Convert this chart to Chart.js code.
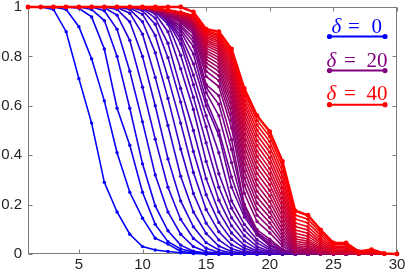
<!DOCTYPE html>
<html lang="en">
<head>
<meta charset="UTF-8" />
<title>Delta sweep</title>
<script src="https://cdn.jsdelivr.net/npm/chart.js"></script>
<style>
  html, body { margin: 0; padding: 0; background: #fff; }
  #wrap { width: 407px; height: 276px; }
</style>
</head>
<body>
<div id="wrap"><canvas id="chart" width="407" height="276"></canvas></div>
<script>
// x positions, axis ticks, delta values
const xValues = [1,2,3,4,5,6,7,8,9,10,11,12,13,14,15,16,17,18,19,20,21,22,23,24,25,26,27,28,29,30];
const xTicks = [5,10,15,20,25,30];
const yTicks = [0,0.2,0.4,0.6,0.8,1];
const deltas = [0,1,2,3,4,5,6,7,8,9,10,11,12,13,14,15,16,17,18,19,20,21,22,23,24,25,26,27,28,29,30,31,32,33,34,35,36,37,38,39,40];
const legendDeltas = [0,20,40];

// one curve per delta
const s00 = [1,1,0.99,0.9,0.71,0.53,0.29,0.17,0.08,0.03,0.016,0.01,0.005,0.002,0,0,0,0,0,0,0,0,0,0,0,0,0,0,0,0];
const s01 = [1,1,1,0.99,0.92,0.79,0.62,0.41,0.25,0.145,0.064,0.04,0.01,0.005,0,0,0,0,0,0,0,0,0,0,0,0,0,0,0,0];
const s02 = [1,1,1,1,0.995,0.96,0.83,0.59,0.44,0.25,0.12,0.05,0.02,0.008,0.003,0,0,0,0,0,0,0,0,0,0,0,0,0,0,0];
const s03 = [1,1,1,1,1,0.99,0.945,0.8,0.59,0.365,0.195,0.094,0.036,0.011,0.004,0,0,0,0,0,0,0,0,0,0,0,0,0,0,0];
const s04 = [1,1,1,1,1,1,0.985,0.91,0.74,0.535,0.32,0.17,0.08,0.03,0.009,0.003,0,0,0,0,0,0,0,0,0,0,0,0,0,0];
const s05 = [1,1,1,1,1,1,0.997,0.967,0.865,0.675,0.465,0.27,0.14,0.063,0.023,0.006,0.002,0,0,0,0,0,0,0,0,0,0,0,0,0];
const s06 = [1,1,1,1,1,1,1,0.99,0.94,0.8,0.6,0.385,0.215,0.11,0.046,0.016,0.004,0.001,0,0,0,0,0,0,0,0,0,0,0,0];
const s07 = [1,1,1,1,1,1,1,0.998,0.975,0.89,0.715,0.52,0.315,0.17,0.083,0.032,0.01,0.003,0,0,0,0,0,0,0,0,0,0,0,0];
const s08 = [1,1,1,1,1,1,1,1,0.99,0.94,0.815,0.63,0.425,0.245,0.125,0.057,0.021,0.006,0.002,0,0,0,0,0,0,0,0,0,0,0];
const s09 = [1,1,1,1,1,1,1,1,0.996,0.97,0.885,0.715,0.53,0.33,0.18,0.09,0.037,0.013,0.003,0,0,0,0,0,0,0,0,0,0,0];
const s10 = [1,1,1,1,1,1,1,1,0.999,0.985,0.93,0.795,0.615,0.415,0.24,0.128,0.059,0.023,0.007,0.002,0,0,0,0,0,0,0,0,0,0];
const s11 = [1,1,1,1,1,1,1,1,1,0.993,0.955,0.853,0.67,0.5,0.305,0.17,0.085,0.035,0.012,0.003,0,0,0,0,0,0,0,0,0,0];
const s12 = [1,1,1,1,1,1,1,1,1,0.996,0.972,0.9,0.75,0.585,0.375,0.218,0.114,0.053,0.02,0.006,0.002,0,0,0,0,0,0,0,0,0];
const s13 = [1,1,1,1,1,1,1,1,1,0.998,0.98,0.93,0.805,0.635,0.45,0.27,0.147,0.074,0.03,0.01,0.003,0,0,0,0,0,0,0,0,0];
const s14 = [1,1,1,1,1,1,1,1,1,0.999,0.99,0.94,0.85,0.685,0.515,0.325,0.185,0.097,0.044,0.017,0.005,0.001,0,0,0,0,0,0,0,0];
const s15 = [1,1,1,1,1,1,1,1,1,0.998,0.988,0.945,0.87,0.725,0.56,0.41,0.215,0.12,0.058,0.024,0.008,0.002,0,0,0,0,0,0,0,0];
const s16 = [1,1,1,1,1,1,1,1,1,0.997,0.986,0.948,0.885,0.77,0.6,0.48,0.27,0.15,0.077,0.033,0.012,0.004,0,0,0,0,0,0,0,0];
const s17 = [1,1,1,1,1,1,1,1,1,0.996,0.984,0.951,0.9,0.81,0.622,0.5,0.312,0.165,0.08,0.036,0.013,0.003,0,0,0,0,0,0,0,0];
const s18 = [1,1,1,1,1,1,1,1,1,0.995,0.982,0.953,0.91,0.84,0.653,0.56,0.37,0.18,0.085,0.04,0.014,0.003,0.001,0,0,0,0,0,0,0];
const s19 = [1,1,1,1,1,1,1,1,1,0.994,0.981,0.955,0.92,0.86,0.674,0.606,0.423,0.195,0.089,0.05,0.017,0.003,0.001,0,0,0,0,0,0,0];
const s20 = [1,1,1,1,1,1,1,1,1,0.994,0.98,0.957,0.927,0.876,0.686,0.641,0.463,0.2015,0.098,0.06,0.0198,0.001,0,0,0,0,0,0,0,0];
const s21 = [1,1,1,1,1,1,1,1,1,0.9948,0.9827,0.9622,0.9357,0.8909,0.719,0.678,0.51,0.246,0.1315,0.0853,0.0323,0.0022,0.0015,0.0003,0,0,0,0,0,0];
const s22 = [1,1,1,1,1,1,1,1,1,0.9952,0.9842,0.9655,0.9412,0.9,0.7402,0.7018,0.5413,0.2787,0.1573,0.1061,0.0438,0.0038,0.0027,0.0006,0,0,0,0,0,0];
const s23 = [1,1,1,1,1,1,1,1,1,0.9956,0.9854,0.9682,0.9457,0.9075,0.7579,0.7216,0.568,0.308,0.1818,0.1265,0.056,0.0059,0.0043,0.0011,0.0001,0,0,0,0,0];
const s24 = [1,1,1,1,1,1,1,1,1,0.9959,0.9865,0.9705,0.9496,0.9141,0.7738,0.7394,0.5926,0.3364,0.2066,0.1477,0.0694,0.0087,0.0065,0.0018,0.0002,0.0002,0,0,0,0];
const s25 = [1,1,1,1,1,1,1,1,1,0.9962,0.9874,0.9726,0.953,0.9199,0.7878,0.7552,0.6146,0.363,0.2306,0.1688,0.0836,0.0122,0.0092,0.0028,0.0004,0.0004,0,0,0,0];
const s26 = [1,1,1,1,1,1,1,1,1,0.9965,0.9883,0.9744,0.9562,0.9251,0.8005,0.7695,0.635,0.3886,0.2546,0.1902,0.0988,0.0163,0.0127,0.0042,0.0007,0.0007,0,0,0,0];
const s27 = [1,1,1,1,1,1,1,1,1,0.9967,0.9891,0.9761,0.9591,0.93,0.8126,0.7833,0.6549,0.4143,0.2793,0.2129,0.1156,0.0216,0.017,0.006,0.0011,0.0011,0,0.0001,0,0];
const s28 = [1,1,1,1,1,1,1,1,1,0.9969,0.9898,0.9776,0.9616,0.9343,0.8234,0.7956,0.6728,0.4382,0.3029,0.2349,0.1326,0.0276,0.0221,0.0084,0.0017,0.0017,0.0001,0.0003,0,0];
const s29 = [1,1,1,1,1,1,1,1,1,0.9971,0.9904,0.979,0.964,0.9383,0.8336,0.8072,0.6898,0.4617,0.3266,0.2574,0.1506,0.0346,0.0281,0.0113,0.0025,0.0025,0.0001,0.0004,0,0];
const s30 = [1,1,1,1,1,1,1,1,1,0.9973,0.991,0.9803,0.9662,0.942,0.8431,0.818,0.706,0.4844,0.3502,0.2801,0.1694,0.0426,0.0351,0.0149,0.0037,0.0037,0.0002,0.0007,0,0];
const s31 = [1,1,1,1,1,1,1,1,1,0.9975,0.9915,0.9815,0.9682,0.9454,0.8519,0.828,0.721,0.5062,0.3732,0.3026,0.1887,0.0517,0.043,0.0193,0.0051,0.0051,0.0004,0.0011,0,0];
const s32 = [1,1,1,1,1,1,1,1,1,0.9976,0.992,0.9826,0.97,0.9486,0.8599,0.8373,0.7351,0.5269,0.3955,0.3246,0.2082,0.0615,0.0517,0.0243,0.007,0.007,0.0006,0.0016,0,0];
const s33 = [1,1,1,1,1,1,1,1,1,0.9977,0.9925,0.9835,0.9717,0.9514,0.8673,0.8457,0.7479,0.5462,0.4166,0.3458,0.2274,0.0719,0.0611,0.03,0.0093,0.0093,0.001,0.0023,0.0001,0];
const s34 = [1,1,1,1,1,1,1,1,1,0.9979,0.9929,0.9845,0.9734,0.9542,0.8747,0.8542,0.7609,0.5662,0.439,0.3684,0.2484,0.0842,0.0721,0.0369,0.0122,0.0122,0.0014,0.0033,0.0002,0];
const s35 = [1,1,1,1,1,1,1,1,1,0.998,0.9933,0.9854,0.9749,0.9567,0.8813,0.8618,0.7727,0.5847,0.4598,0.3897,0.2687,0.0968,0.0837,0.0445,0.0157,0.0157,0.0021,0.0046,0.0002,0];
const s36 = [1,1,1,1,1,1,1,1,1,0.9981,0.9937,0.9862,0.9764,0.9593,0.888,0.8695,0.7848,0.6037,0.4817,0.4123,0.2906,0.1112,0.097,0.0536,0.0201,0.0201,0.003,0.0063,0.0004,0];
const s37 = [1,1,1,1,1,1,1,1,1,0.9982,0.9941,0.987,0.9777,0.9615,0.8939,0.8763,0.7953,0.6209,0.5016,0.4331,0.3112,0.1256,0.1104,0.063,0.025,0.025,0.0042,0.0084,0.0006,0];
const s38 = [1,1,1,1,1,1,1,1,1,0.9983,0.9944,0.9878,0.9789,0.9637,0.8998,0.8831,0.8062,0.6385,0.5224,0.455,0.3334,0.142,0.1257,0.0742,0.031,0.031,0.0058,0.0111,0.001,0];
const s39 = [1,1,1,1,1,1,1,1,1,0.9984,0.9947,0.9884,0.9801,0.9656,0.9048,0.889,0.8155,0.6541,0.5409,0.4746,0.3536,0.1576,0.1405,0.0853,0.0374,0.0374,0.0076,0.0142,0.0014,0];
const s40 = [1,1,1,1,1,1,1,1,1,1,1,1,1,0.98,0.91,0.9,0.83,0.67,0.56,0.495,0.375,0.175,0.157,0.098,0.045,0.045,0.01,0.018,0.002,0];

const allSeries = [s00,s01,s02,s03,s04,s05,s06,s07,s08,s09,s10,s11,s12,s13,s14,s15,s16,s17,s18,s19,
  s20,s21,s22,s23,s24,s25,s26,s27,s28,s29,s30,s31,s32,s33,s34,s35,s36,s37,s38,s39,s40];

// blue -> purple -> red
function colorFor(d) {
  const t = d / 40;
  return `rgb(${Math.round(255 * t)},0,${Math.round(255 * (1 - t))})`;
}

const datasets = allSeries.map((ys, i) => {
  const last = i === allSeries.length - 1;
  return {
    label: 'delta ' + deltas[i],
    data: ys.map((y, j) => ({ x: xValues[j], y: y })),
    borderColor: colorFor(deltas[i]),
    backgroundColor: colorFor(deltas[i]),
    borderWidth: last ? 2.5 : 1.6,
    pointRadius: last ? 2.4 : 1.7,
    pointBorderWidth: 0,
    pointHoverRadius: 0,
    tension: 0,
    order: allSeries.length - i,
    clip: false
  };
});

const tickFont = { family: 'Liberation Sans', size: 15 };
const axisColor = '#7a7a7a';

// box round the axes with inward tick marks (drawn under the lines)
const framePlugin = {
  id: 'frame',
  beforeDatasetsDraw(chart) {
    const { ctx, chartArea: a, scales: { x, y } } = chart;
    const L = Math.round(a.left) + 0.5, R = Math.round(a.right) - 0.5;
    const T = Math.round(a.top) + 0.5, B = Math.round(a.bottom) - 0.5;
    ctx.save();
    ctx.strokeStyle = axisColor;
    ctx.lineWidth = 1;
    ctx.strokeRect(L, T, R - L, B - T);
    ctx.beginPath();
    xTicks.forEach(v => {
      const px = Math.round(x.getPixelForValue(v)) + 0.5;
      ctx.moveTo(px, B); ctx.lineTo(px, B - 4);
      ctx.moveTo(px, T); ctx.lineTo(px, T + 4);
    });
    yTicks.forEach(v => {
      const py = Math.round(y.getPixelForValue(v)) + 0.5;
      ctx.moveTo(L, py); ctx.lineTo(L + 4, py);
      ctx.moveTo(R, py); ctx.lineTo(R - 4, py);
    });
    ctx.stroke();
    ctx.restore();
  },
  afterDraw(chart) {
    const ctx = chart.ctx;
    const cx = 357.5;
    ctx.save();
    legendDeltas.forEach((d, i) => {
      const col = colorFor(d);
      const base = 33 + i * 33.5;
      const lineY = base + 3.5 + i * 0.6;
      const wide = String(d).length > 1;
      ctx.fillStyle = col;
      ctx.textBaseline = 'alphabetic';
      ctx.textAlign = 'left';
      ctx.font = 'italic 21px "Liberation Serif"';
      ctx.fillText('\u03b4', cx + (wide ? -31 : -26), base);
      ctx.font = '21px "Liberation Serif"';
      ctx.textAlign = 'center';
      ctx.fillText('=', cx + (wide ? -7.5 : -3.5), base);
      ctx.textAlign = 'left';
      ctx.fillText(String(d), cx + (wide ? 9 : 14), base);
      ctx.strokeStyle = col;
      ctx.lineWidth = 2;
      ctx.beginPath();
      ctx.moveTo(329.5, lineY); ctx.lineTo(385, lineY);
      ctx.stroke();
      [329.5, 385].forEach(px => {
        ctx.beginPath();
        ctx.arc(px, lineY, 2.6, 0, Math.PI * 2);
        ctx.fill();
      });
    });
    ctx.restore();
  }
};

new Chart(document.getElementById('chart'), {
  type: 'line',
  data: { datasets: datasets },
  options: {
    responsive: false,
    animation: false,
    devicePixelRatio: 1,
    layout: { padding: { left: 0, right: 10, top: 7, bottom: 0 } },
    plugins: { legend: { display: false }, tooltip: { enabled: false } },
    scales: {
      x: {
        type: 'linear', min: 1, max: 30,
        afterBuildTicks: s => { s.ticks = xTicks.map(v => ({ value: v })); },
        afterFit: s => { s.height = 22; s.paddingLeft = 0; s.paddingRight = 0; },
        grid: { display: false, drawTicks: false },
        border: { display: false },
        ticks: { padding: 2, color: '#262626', font: tickFont, maxRotation: 0, autoSkip: false, callback: v => String(v) }
      },
      y: {
        type: 'linear', min: 0, max: 1,
        afterBuildTicks: s => { s.ticks = yTicks.map(v => ({ value: v })); },
        afterFit: s => { s.width = 28; s.paddingTop = 0; s.paddingBottom = 0; },
        grid: { display: false, drawTicks: false },
        border: { display: false },
        ticks: { padding: 6, color: '#262626', font: tickFont, autoSkip: false, callback: v => String(v) }
      }
    }
  },
  plugins: [framePlugin]
});
</script>
</body>
</html>
